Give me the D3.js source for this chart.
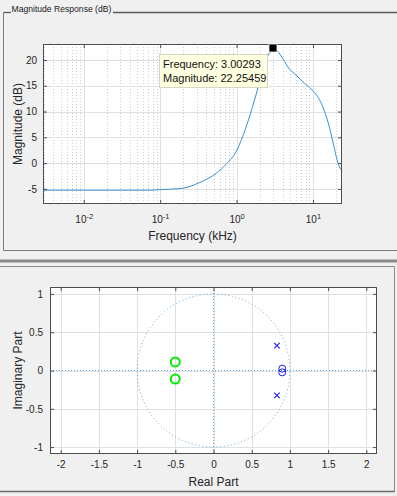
<!DOCTYPE html>
<html><head><meta charset="utf-8">
<script src="https://cdn.jsdelivr.net/npm/d3@7"></script>
<style>
html,body{margin:0;padding:0;background:#f0f0f0;}
svg{display:block;font-family:"Liberation Sans",Arial,sans-serif;}
</style></head>
<body>
<svg id="c" width="397" height="496"></svg>
<script>
// ---------- data ----------
const freqKHz = [0.00293, 0.01, 0.03, 0.073, 0.1, 0.2, 0.33, 0.54, 0.73, 1.0, 1.32, 1.61, 1.97, 2.41, 2.75, 3.00293, 3.4, 4.1, 4.83, 6.0, 7.2, 9.7, 11.5, 13.1, 16.0, 18.5, 21.5, 24];
const magDB   = [-5.25, -5.25, -5.25, -5.25, -5.15, -4.85, -3.75, -2.0, -0.2, 2.4, 6.8, 10.8, 15.3, 19.8, 21.6, 22.25459, 21.8, 20.1, 18.4, 17.1, 15.9, 14.2, 12.9, 11.3, 7.6, 3.7, -0.2, -1.5];
const peakFreq = 3.00293;
const peakMag = 22.25459;
const magTicks = [-5, 0, 5, 10, 15, 20];
const freqTicks = [0.01, 0.1, 1, 10];
const freqTickExp = ["-2", "-1", "0", "1"];

const zeroRe = [-0.5, -0.5, 0.9, 0.9];
const zeroIm = [0.112, -0.112, 0.024, -0.024];
const zeroColor = ["green", "green", "blue", "blue"];
const poleRe = [0.83, 0.83];
const poleIm = [0.325, -0.325];
const reTicks = [-2, -1.5, -1, -0.5, 0, 0.5, 1, 1.5, 2];
const imTicks = [-1, -0.5, 0, 0.5, 1];

// ---------- setup ----------
const svg = d3.select("#c");
const txt = "#262626", axc = "#4d4d4d";

// panel frames
svg.append("line").attr("x1",3.5).attr("x2",11).attr("y1",12.5).attr("y2",12.5).attr("stroke","#5a5a5a").attr("stroke-width",1.3);
svg.append("line").attr("x1",113).attr("x2",397).attr("y1",12.5).attr("y2",12.5).attr("stroke","#5a5a5a").attr("stroke-width",1.3);
svg.append("line").attr("x1",3.5).attr("x2",3.5).attr("y1",12.5).attr("y2",250.5).attr("stroke","#7a7a7a");
svg.append("line").attr("x1",3.5).attr("x2",397).attr("y1",250.5).attr("y2",250.5).attr("stroke","#7a7a7a");
svg.append("text").attr("x",11.5).attr("y",12).attr("font-size",8.6).attr("fill","#1a1a1a").text("Magnitude Response (dB)");
svg.append("rect").attr("x",0).attr("y",259.5).attr("width",397).attr("height",3).attr("fill","#8a8a8a");
svg.append("line").attr("x1",0).attr("x2",394.5).attr("y1",266.5).attr("y2",266.5).attr("stroke","#8a8a8a");
svg.append("line").attr("x1",394.5).attr("x2",394.5).attr("y1",266.5).attr("y2",492).attr("stroke","#8a8a8a");
svg.append("line").attr("x1",0).attr("x2",394.5).attr("y1",491.5).attr("y2",491.5).attr("stroke","#6a6a6a").attr("stroke-width",1.4);

// ---------- magnitude plot ----------
const L1=43, R1=342, T1=44, B1=204;
const x = d3.scaleLog().domain([48/16384, 24]).range([L1, R1]);
const y = d3.scaleLinear().domain([-7.93, 23.1]).range([B1, T1]);
const g1 = svg.append("g");
g1.append("rect").attr("x",L1).attr("y",T1).attr("width",R1-L1).attr("height",B1-T1).attr("fill","#fff");
// minor grid
const minor = [];
for (let e=-3; e<=1; e++) for (let k=2; k<=9; k++) { const v=k*Math.pow(10,e); if (v>x.domain()[0] && v<x.domain()[1]) minor.push(v); }
g1.selectAll(".mg").data(minor).join("line")
  .attr("x1",d=>Math.round(x(d))+0.5).attr("x2",d=>Math.round(x(d))+0.5).attr("y1",T1).attr("y2",B1)
  .attr("stroke","#cfcfcf").attr("stroke-dasharray","1,2");
g1.selectAll(".vg").data(freqTicks).join("line")
  .attr("x1",d=>Math.round(x(d))+0.5).attr("x2",d=>Math.round(x(d))+0.5).attr("y1",T1).attr("y2",B1)
  .attr("stroke","#e0e0e0");
g1.selectAll(".hg").data(magTicks).join("line")
  .attr("y1",d=>Math.round(y(d))+0.5).attr("y2",d=>Math.round(y(d))+0.5).attr("x1",L1).attr("x2",R1)
  .attr("stroke","#e0e0e0");
// curve
g1.append("path").datum(freqKHz.map((f,i)=>[f,magDB[i]]))
  .attr("fill","none").attr("stroke","#3890d6").attr("stroke-width",1)
  .attr("d", d3.line().x(d=>x(d[0])).y(d=>y(d[1])).curve(d3.curveMonotoneX));
// axes
function styleAxis(sel){ sel.select(".domain").remove(); sel.selectAll(".tick line").attr("stroke",axc); sel.selectAll("text").attr("fill",txt).attr("font-size",10); }
const ab = g1.append("g").attr("transform",`translate(0,${B1})`)
  .call(d3.axisBottom(x).tickValues(freqTicks).tickSize(-4).tickFormat(()=>"")).call(styleAxis);
ab.selectAll(".tick text").remove();
ab.selectAll(".tick").append("text").attr("y",19).attr("text-anchor","middle").attr("fill",txt).attr("font-size",10)
  .each(function(d,i){ const t=d3.select(this); t.append("tspan").text("10"); t.append("tspan").attr("dy",-4).attr("font-size",7.5).text(freqTickExp[i]); });
g1.append("g").attr("transform",`translate(0,${T1})`).call(d3.axisTop(x).tickValues(freqTicks).tickSize(-4).tickFormat(()=>"")).call(styleAxis);
g1.append("g").attr("transform",`translate(${L1},0)`).call(d3.axisLeft(y).tickValues(magTicks).tickSize(-4).tickPadding(6)).call(styleAxis);
g1.append("g").attr("transform",`translate(${R1},0)`).call(d3.axisRight(y).tickValues(magTicks).tickSize(-4).tickFormat(()=>"")).call(styleAxis);
g1.selectAll("text").filter(function(){return this.textContent.startsWith("−");}).text(function(){return this.textContent.replace("−","-");});
g1.append("rect").attr("x",L1+0.5).attr("y",T1+0.5).attr("width",R1-L1-1).attr("height",B1-T1-1).attr("fill","none").attr("stroke",axc);
g1.append("text").attr("x",(L1+R1)/2).attr("y",239.5).attr("text-anchor","middle").attr("font-size",12).attr("fill",txt).text("Frequency (kHz)");
g1.append("text").attr("transform",`translate(21.5,${(T1+B1)/2}) rotate(-90)`).attr("text-anchor","middle").attr("font-size",12).attr("fill",txt).text("Magnitude (dB)");
// data tip
g1.append("rect").attr("x",Math.round(x(peakFreq))-4).attr("y",Math.round(y(peakMag))-4).attr("width",8).attr("height",8)
  .attr("fill","#000").attr("stroke","#f4f4d8").attr("stroke-width",0.8);
g1.append("rect").attr("x",159.5).attr("y",54.5).attr("width",108).attr("height",33).attr("fill","#ffffe1").attr("stroke","#d6d6c4");
g1.append("text").attr("x",163).attr("y",68).attr("font-size",11).attr("fill","#111").text("Frequency: " + peakFreq.toFixed(5));
g1.append("text").attr("x",163).attr("y",82).attr("font-size",11).attr("fill","#111").text("Magnitude: " + peakMag.toFixed(5));

// ---------- pole-zero plot ----------
const L2=50, R2=377, T2=287, B2=454;
const xr = d3.scaleLinear().domain([-2.14, 2.14]).range([L2, R2]);
const yi = d3.scaleLinear().domain([-1.09, 1.09]).range([B2, T2]);
const g2 = svg.append("g");
g2.append("rect").attr("x",L2).attr("y",T2).attr("width",R2-L2).attr("height",B2-T2).attr("fill","#fff");
g2.selectAll(".vg").data(reTicks).join("line")
  .attr("x1",d=>Math.round(xr(d))+0.5).attr("x2",d=>Math.round(xr(d))+0.5).attr("y1",T2).attr("y2",B2).attr("stroke","#e0e0e0");
g2.selectAll(".hg").data(imTicks).join("line")
  .attr("y1",d=>Math.round(yi(d))+0.5).attr("y2",d=>Math.round(yi(d))+0.5).attr("x1",L2).attr("x2",R2).attr("stroke","#e0e0e0");
const dotc = "#5aa8e4";
g2.append("line").attr("x1",L2).attr("x2",R2).attr("y1",yi(0)).attr("y2",yi(0)).attr("stroke",dotc).attr("stroke-dasharray","1,2");
g2.append("line").attr("x1",xr(0)).attr("x2",xr(0)).attr("y1",T2).attr("y2",B2).attr("stroke",dotc).attr("stroke-dasharray","1,2");
const circ = d3.range(0, 2*Math.PI+0.001, Math.PI/180).map(a=>[Math.cos(a), Math.sin(a)]);
g2.append("path").datum(circ).attr("fill","none").attr("stroke",dotc).attr("stroke-dasharray","1,2.6")
  .attr("d", d3.line().x(d=>xr(d[0])).y(d=>yi(d[1])));
// zeros
zeroRe.forEach((re,i)=>{
  const green = zeroColor[i]==="green";
  g2.append("circle").attr("cx",xr(re)).attr("cy",yi(zeroIm[i])).attr("r",green?4.5:3.5)
    .attr("fill","none").attr("stroke",green?"#00ee00":"#1a1aff").attr("stroke-width",green?2:1);
});
// poles
poleRe.forEach((re,i)=>{
  const cx=xr(re), cy=yi(poleIm[i]), s=2.8;
  g2.append("path").attr("d",`M${cx-s},${cy-s}L${cx+s},${cy+s}M${cx-s},${cy+s}L${cx+s},${cy-s}`)
    .attr("stroke","#1a1aff").attr("stroke-width",1.1);
});
g2.append("g").attr("transform",`translate(0,${B2})`).call(d3.axisBottom(xr).tickValues(reTicks).tickSize(-4).tickPadding(7).tickFormat(d3.format("~g"))).call(styleAxis);
g2.append("g").attr("transform",`translate(0,${T2})`).call(d3.axisTop(xr).tickValues(reTicks).tickSize(-4).tickFormat(()=>"")).call(styleAxis);
g2.append("g").attr("transform",`translate(${L2},0)`).call(d3.axisLeft(yi).tickValues(imTicks).tickSize(-4).tickPadding(7).tickFormat(d3.format("~g"))).call(styleAxis);
g2.append("g").attr("transform",`translate(${R2},0)`).call(d3.axisRight(yi).tickValues(imTicks).tickSize(-4).tickFormat(()=>"")).call(styleAxis);
g2.selectAll("text").filter(function(){return this.textContent.startsWith("−");}).text(function(){return this.textContent.replace("−","-");});
g2.append("rect").attr("x",L2+0.5).attr("y",T2+0.5).attr("width",R2-L2-1).attr("height",B2-T2-1).attr("fill","none").attr("stroke",axc);
g2.append("text").attr("x",(L2+R2)/2).attr("y",486).attr("text-anchor","middle").attr("font-size",12).attr("fill",txt).text("Real Part");
g2.append("text").attr("transform",`translate(21.5,${(T2+B2)/2}) rotate(-90)`).attr("text-anchor","middle").attr("font-size",12).attr("fill",txt).text("Imaginary Part");
</script>
</body></html>
